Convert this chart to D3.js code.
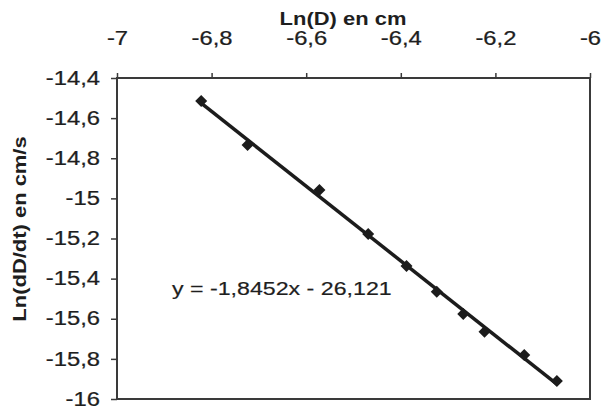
<!DOCTYPE html>
<html>
<head>
<meta charset="utf-8">
<script src="https://cdn.jsdelivr.net/npm/d3@7"></script>
<style>
  html, body { margin: 0; padding: 0; background: #fff; }
  svg { display: block; }
  text { font-family: "Liberation Sans", Arial, sans-serif; fill: #1e1e1e; }
</style>
</head>
<body>
<svg id="chart" width="602" height="409"></svg>
<script>
// ---- data ----
const lnD    = [-6.822, -6.724, -6.572, -6.469, -6.388, -6.324, -6.268, -6.223, -6.139, -6.070];
const lnRate = [-14.515, -14.734, -14.958, -15.178, -15.337, -15.465, -15.576, -15.665, -15.781, -15.910];
const xTicks = [-7, -6.8, -6.6, -6.4, -6.2, -6];
const yTicks = [-14.4, -14.6, -14.8, -15, -15.2, -15.4, -15.6, -15.8, -16];
const xTitle = "Ln(D) en cm";
const yTitle = "Ln(dD/dt) en cm/s";
const equation = "y = -1,8452x - 26,121";

const fmt = v => String(+v.toFixed(1)).replace(".", ",");
const SX = 1.22;

const svg = d3.select("#chart");
const L = 117, R = 590, T = 78, B = 399;

const x = d3.scaleLinear().domain([-7, -6]).range([L, R]);
const y = d3.scaleLinear().domain([-16, -14.4]).range([B, T]);

// plot border
svg.append("rect")
  .attr("x", L).attr("y", T).attr("width", R - L).attr("height", B - T)
  .attr("fill", "none").attr("stroke", "#3a3a3a").attr("stroke-width", 2);

// top x axis
const gx = svg.append("g").attr("transform", `translate(0,${T})`)
  .call(d3.axisTop(x).tickValues(xTicks).tickFormat(fmt).tickSize(5).tickPadding(28));
gx.select(".domain").remove();
gx.selectAll(".tick line").attr("stroke", "#3a3a3a").attr("stroke-width", 1.5);
gx.selectAll(".tick text")
  .attr("y", 0).attr("dy", 0)
  .attr("transform", `translate(0,-33) scale(${SX},1)`)
  .style("font-size", "19.5px").attr("fill", "#1e1e1e")
  .attr("stroke", "#1e1e1e").attr("stroke-width", 0.25);

// left y axis
const gy = svg.append("g").attr("transform", `translate(${L},0)`)
  .call(d3.axisLeft(y).tickValues(yTicks).tickFormat(fmt).tickSize(6).tickPadding(11));
gy.select(".domain").remove();
gy.selectAll(".tick line").attr("stroke", "#3a3a3a").attr("stroke-width", 1.5);
gy.selectAll(".tick text")
  .attr("x", 0)
  .attr("transform", `translate(-17,0) scale(${SX},1)`)
  .style("font-size", "19.5px").attr("fill", "#1e1e1e")
  .attr("stroke", "#1e1e1e").attr("stroke-width", 0.25);

// titles
svg.append("text")
  .attr("transform", `translate(343,25) scale(${SX},1)`)
  .attr("text-anchor", "middle")
  .style("font-size", "18px").style("font-weight", "bold").text(xTitle);

svg.append("text")
  .attr("transform", `translate(26,229) rotate(-90) scale(${SX},1)`)
  .attr("text-anchor", "middle")
  .style("font-size", "18px").style("font-weight", "bold").text(yTitle);

// least-squares trendline through the points
const n = lnD.length;
const mx = d3.mean(lnD), my = d3.mean(lnRate);
let sxy = 0, sxx = 0;
for (let i = 0; i < n; i++) { sxy += (lnD[i] - mx) * (lnRate[i] - my); sxx += (lnD[i] - mx) ** 2; }
const slope = sxy / sxx, icpt = my - slope * mx;
const x0 = d3.min(lnD), x1 = d3.max(lnD);
svg.append("line")
  .attr("x1", x(x0)).attr("y1", y(slope * x0 + icpt))
  .attr("x2", x(x1)).attr("y2", y(slope * x1 + icpt))
  .attr("stroke", "#1c1c1c").attr("stroke-width", 3.5);

// markers
const sym = d3.symbol().type(d3.symbolSquare).size(72);
svg.append("g").selectAll("path").data(d3.range(n)).join("path")
  .attr("d", sym)
  .attr("transform", i => `translate(${x(lnD[i])},${y(lnRate[i])}) rotate(45)`)
  .attr("fill", "#1c1c1c");

// equation label
svg.append("text")
  .attr("transform", `translate(172,295) scale(${SX},1)`)
  .style("font-size", "19px")
  .attr("stroke", "#1e1e1e").attr("stroke-width", 0.2)
  .text(equation);
</script>
</body>
</html>
